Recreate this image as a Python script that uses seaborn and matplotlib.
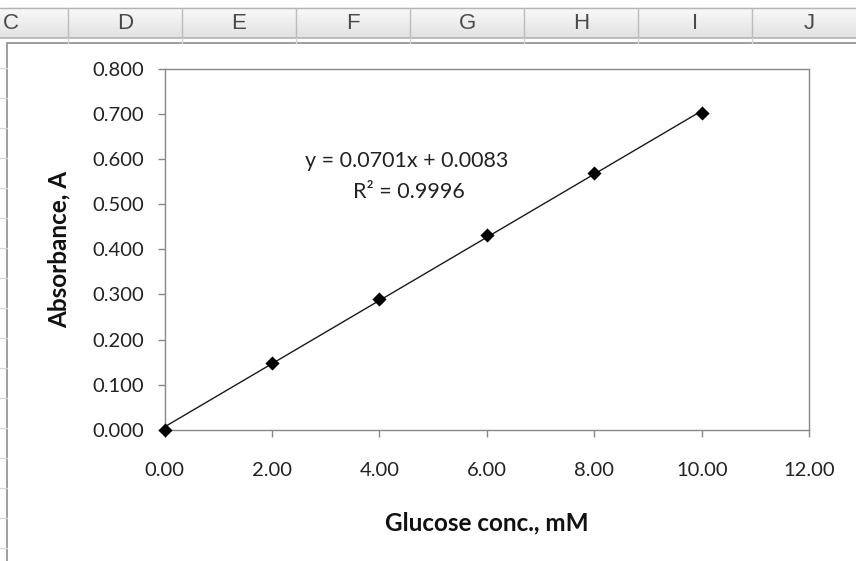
import matplotlib
matplotlib.use("Agg")
import matplotlib.pyplot as plt
import seaborn as sns
import numpy as np
import pandas as pd
from matplotlib.colors import LinearSegmentedColormap
from matplotlib.patches import Rectangle

# values
glucose_mM = [0.0, 2.0, 4.0, 6.0, 8.0, 10.0]
absorbance = [0.000, 0.149, 0.290, 0.432, 0.568, 0.701]
x_ticks = [0, 2, 4, 6, 8, 10, 12]
y_ticks = [0.0, 0.1, 0.2, 0.3, 0.4, 0.5, 0.6, 0.7, 0.8]
column_letters = ['C', 'D', 'E', 'F', 'G', 'H', 'I', 'J']
equation_label = "y = 0.0701x + 0.0083"
r2_label = "R² = 0.9996"

sns.set_theme(style="white")
plt.rcParams['font.family'] = ['Lato', 'DejaVu Sans']

W, H = 856, 561
fig = plt.figure(figsize=(W / 100, H / 100), dpi=100)

# spreadsheet background drawn in pixel coordinates
bg = fig.add_axes([0, 0, 1, 1], zorder=0)
bg.axis('off')
head_top, head_bot, chart_top, chart_left = 7.5, 38.0, 42.7, 7.3
col_w = 114.1
first_edge = 67.7 - col_w
cmap = LinearSegmentedColormap.from_list('hdr', ['#f9f9f9', '#e2e2e2'])
bg.imshow(np.linspace(0, 1, 60).reshape(-1, 1), cmap=cmap, aspect='auto',
          extent=(0, W, head_bot, head_top), origin='upper')
bg.set_xlim(0, W)
bg.set_ylim(H, 0)
bg.plot([0, W], [head_top, head_top], color='#b4b4b4', lw=1)
bg.plot([0, W], [head_bot, head_bot], color='#b4b4b4', lw=1.2)
for i, letter in enumerate(column_letters):
    left = first_edge + i * col_w
    right = left + col_w
    bg.plot([right, right], [head_top, head_bot], color='#bcbcbc', lw=1)
    bg.plot([right, right], [head_bot, chart_top], color='#d4d4d4', lw=1)
    bg.text((left + right) / 2, (head_top + head_bot) / 2 + 0.5, letter,
            ha='center', va='center', fontsize=16, color='#4a4a4a',
            family=['Liberation Sans', 'DejaVu Sans'])
for ry in np.arange(68, H, 30):
    bg.plot([0, chart_left], [ry, ry], color='#d8d8d8', lw=1)
bg.add_patch(Rectangle((chart_left, chart_top), W, H, facecolor='white',
                       edgecolor='#8c8c8c', lw=1.2))

# plot area
ax_l, ax_r, ax_t, ax_b = 164.5, 809.5, 68.7, 429.8
ax = fig.add_axes([ax_l / W, 1 - ax_b / H, (ax_r - ax_l) / W, (ax_b - ax_t) / H],
                  zorder=2)
df = pd.DataFrame({'glucose': glucose_mM, 'absorbance': absorbance})
sns.regplot(data=df, x='glucose', y='absorbance', ax=ax, ci=None,
            marker='D', color='black',
            scatter_kws={'s': 52, 'alpha': 1, 'clip_on': False, 'zorder': 4,
                         'linewidths': 0},
            line_kws={'lw': 1.0, 'clip_on': False, 'color': '#1a1a1a'})

ax.set_xlim(0, 12)
ax.set_ylim(0, 0.8)
ax.set_xticks(x_ticks)
ax.set_yticks(y_ticks)
ax.set_xticklabels([f"{v:.2f}" for v in x_ticks])
ax.set_yticklabels([f"{v:.3f}" for v in y_ticks])
for sp in ax.spines.values():
    sp.set_visible(True)
    sp.set_color('#888888')
    sp.set_linewidth(1.0)
ax.tick_params(axis='both', direction='out', length=5, width=1,
               color='#888888', labelsize=14.5, labelcolor='#222222')
ax.tick_params(axis='x', bottom=True, pad=18)
ax.tick_params(axis='y', left=True, pad=10)

ax.set_xlabel('Glucose conc., mM', fontsize=17.5, fontweight='bold', color='#111111')
ax.set_ylabel('Absorbance, A', fontsize=17.5, fontweight='bold', color='#111111')
ax.xaxis.set_label_coords(0.5, -0.225)
ax.yaxis.set_label_coords(-0.145, 0.5)

ax.text(4.5, 0.596, equation_label, ha='center', va='center', fontsize=15.5,
        color='#222222')
ax.text(4.55, 0.527, r2_label, ha='center', va='center', fontsize=15.5,
        color='#222222')

fig.savefig('out.png', dpi=100)
